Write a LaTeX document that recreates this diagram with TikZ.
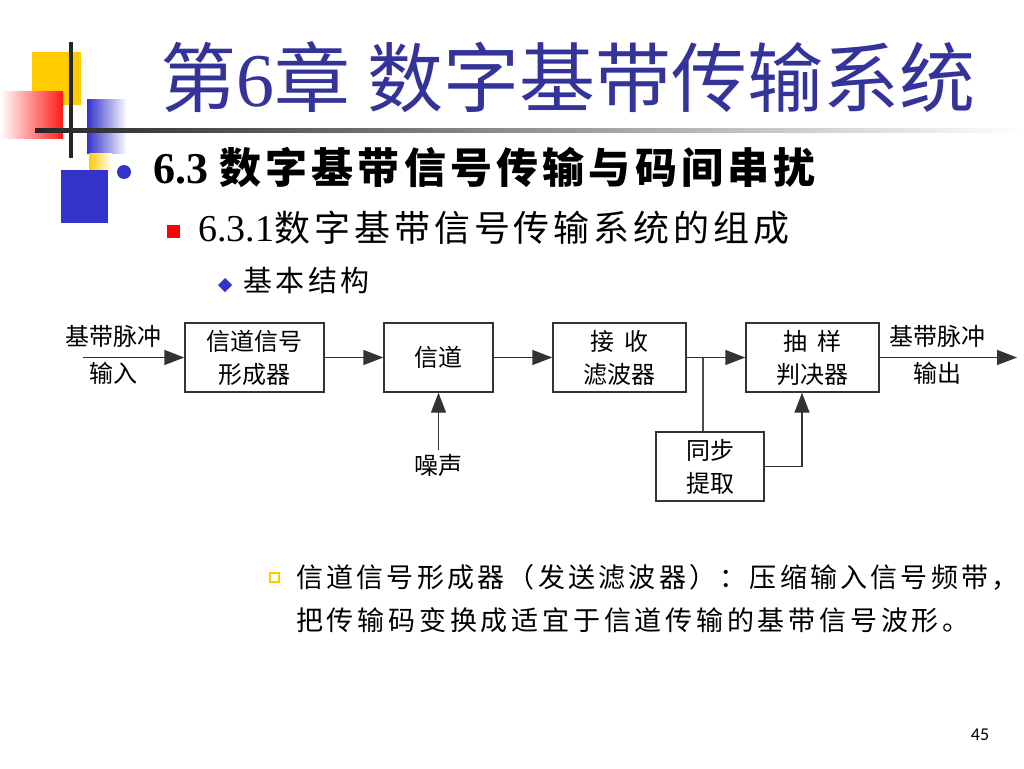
\documentclass[tikz,border=0pt]{standalone}
\usepackage{fontspec}
\setmainfont{Liberation Serif}
\setsansfont{Carlito}
\newfontfamily\cjk{Noto Sans CJK SC}
\newfontfamily\cjkA{Noto Sans CJK SC}[LetterSpace=10]
\newfontfamily\cjkB{Noto Sans CJK SC}[LetterSpace=11]
\newfontfamily\cjkC{Noto Sans CJK SC}[LetterSpace=12]
\newfontfamily\cjkD{Noto Sans CJK SC}[LetterSpace=14]
\usetikzlibrary{arrows.meta,positioning}
\definecolor{titleblue}{HTML}{333399}
\definecolor{ppblue}{HTML}{3333CC}
\definecolor{ppyellow}{HTML}{FFCC00}
\newcommand\dgm{\cjk\fontsize{24}{33}\selectfont}

\begin{document}
\begin{tikzpicture}[x=1pt,y=-1pt,
  blk/.style={draw=black!80,line width=1.4pt,minimum width=#1,minimum height=69pt,inner sep=0pt,align=center,font=\dgm},
  lbl/.style={font=\dgm},
  sig/.style={draw=black!80,line width=1.4pt,-{Triangle[length=20pt,width=15pt]}},
  wire/.style={draw=black!70,line width=1.4pt}]
  \useasboundingbox[fill=white] (0,0) rectangle (1024,768);

  % slide decoration
  \fill[ppyellow] (32,52) rectangle (81,105);
  \shade[left color=white,right color=red!90] (0,91) rectangle (63,138);
  \shade[left color=ppblue,right color=white] (87,99) rectangle (127,153);
  \shade[left color=ppyellow,right color=white] (89,153) rectangle (112,170);
  \fill[ppblue] (61,170) rectangle (108,223);
  \fill[black!85] (69,42) rectangle (73,158);
  \shade[left color=black!85,right color=white] (35,128) rectangle (1024,132);

  % bullets
  \fill[ppblue] (124,172) circle (7);
  \fill[red] (167,225) rectangle (180,238);
  \fill[ppblue] (225,278) -- (232,285) -- (225,292) -- (218,285) -- cycle;
  \draw[ppyellow,line width=2pt] (270,573) rectangle (279,582);

  \path
  (160,77) node[anchor=west,inner sep=0pt,text=titleblue,font=\cjk\fontsize{76}{84}\selectfont] (title) {第{\rmfamily 6}章 数字基带传输系统}
  (153,167) node[anchor=west,inner sep=0pt,font=\bfseries\fontsize{44}{48}\selectfont] (sec) {6.3 {\cjkA\fontsize{42}{48}\selectfont 数字基带信号传输与码间串扰}}
  (198,228) node[anchor=west,inner sep=0pt,font=\fontsize{38}{42}\selectfont] (subsec) {6.3.1{\cjkB\fontsize{36}{42}\selectfont 数字基带信号传输系统的组成}}
  (243,280) node[anchor=west,inner sep=0pt,font=\cjkC\fontsize{29}{32}\selectfont] (item) {基本结构}
  (296,577) node[anchor=west,inner sep=0pt,font=\cjkC\fontsize{27}{30}\selectfont] (noteA) {信道信号形成器（发送滤波器）：压缩输入信号频带，}
  (296,620) node[anchor=west,inner sep=0pt,font=\cjkD\fontsize{27}{30}\selectfont] (noteB) {把传输码变换成适宜于信道传输的基带信号波形。}
  (980,735) node[font=\sffamily\fontsize{18}{20}\selectfont] (page) {45}
  ;

  % block diagram
  \path
  (254.5,357.5) node[blk=139pt] (shaper) {信道信号\\形成器}
  (438.5,357.5) node[blk=109pt] (chan) {信道}
  (619.5,357.5) node[blk=133pt] (rxf) {接\hspace{0.45em}收\\滤波器}
  (812.5,357.5) node[blk=133pt] (judge) {抽\hspace{0.45em}样\\判决器}
  (710,466.5) node[blk=108pt] (sync) {同步\\提取}
  (438.5,465) node[lbl] (noise) {噪声}
  (113,336) node[lbl] (inA) {基带脉冲}
  (113,373) node[lbl] (inB) {输入}
  (937,336) node[lbl] (outA) {基带脉冲}
  (937,373) node[lbl] (outB) {输出}
  (83,357.5) coordinate (in)
  (1017,357.5) coordinate (out)
  (703,357.5) coordinate (tap)
  ;

  \draw[sig] (in) -- (shaper);
  \draw[sig] (shaper) -- (chan);
  \draw[sig] (chan) -- (rxf);
  \draw[sig] (rxf) -- (judge);
  \draw[sig] (judge) -- (out);
  \draw[sig] (noise.north) -- (chan.south);
  \draw[wire] (tap) -- (tap |- sync.north);
  \draw[sig] (sync.east) -| ([xshift=-10.5pt]judge.south);
\end{tikzpicture}
\end{document}
